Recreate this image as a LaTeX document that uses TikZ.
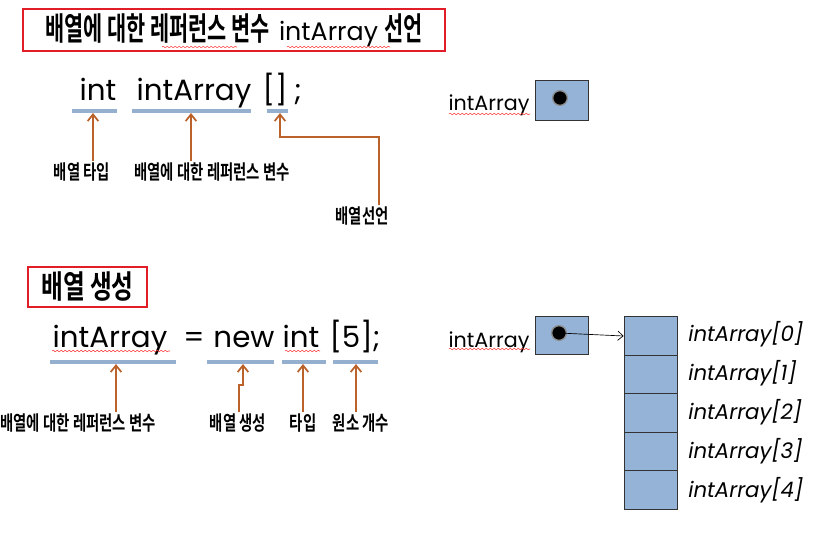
\documentclass[tikz,border=0pt]{standalone}
\usepackage{fontspec}
\usepackage{graphicx}
\setmainfont{Poppins}
\newfontfamily\codefont{Poppins}
\newfontfamily\krfont{Noto Sans CJK KR}[BoldFont={* Bold}]
\newcommand{\kr}[2][0.72]{\scalebox{#1}[1]{\krfont\bfseries #2}}
\usepackage{tikz}
\usetikzlibrary{arrows.meta}
\usetikzlibrary{decorations.pathmorphing}
\definecolor{refblue}{RGB}{149,179,215}
\definecolor{lineblue}{RGB}{148,176,206}
\definecolor{ptrbrown}{RGB}{186,98,42}
\definecolor{boxred}{RGB}{225,30,40}
\tikzset{>={Straight Barb[length=5pt,width=8pt]}}

\begin{document}
\begin{tikzpicture}[x=0.75pt,y=-0.75pt,
	code/.style={font=\codefont\fontsize{22}{26}\selectfont,inner sep=0pt,anchor=base},
	var/.style={font=\codefont\fontsize{15.5}{18}\selectfont,inner sep=0pt,anchor=base},
	idx/.style={font=\codefont\itshape\fontsize{16}{19}\selectfont,inner sep=0pt,anchor=base west},
	lbl/.style={font=\fontsize{15}{17}\selectfont,inner sep=1pt},
	title/.style={draw=boxred,line width=1.5pt,inner sep=0pt},
	uline/.style={draw=lineblue,line width=2.6pt},
	ptr/.style={draw=ptrbrown,line width=1.3pt,->},
	refbox/.style={draw=black!80,fill=refblue,minimum width=39.75pt,inner sep=0pt,line width=0.6pt},
	cell/.style={refbox,minimum height=28.9pt},
	dot/.style={circle,fill=black,draw=black!45,line width=1pt,minimum size=11pt,inner sep=0pt},
	squig/.style={draw=red!80,line width=0.4pt,decorate,decoration={snake,amplitude=0.6pt,segment length=3pt}}]
	\useasboundingbox (0,0) rectangle (840,537);

	% declaration
	\node[title,minimum width=316.5pt,minimum height=31.5pt] (title1) at (234,30)
		{\fontsize{24}{28}\selectfont\kr[0.65]{배열에 대한 레퍼런스 변수}\hspace{7pt}{\codefont\fontsize{19}{22}\selectfont intArray}\hspace{5pt}\kr[0.65]{선언}};
	\draw[squig] (162,47) -- (237,47);
	\draw[squig] (287,47) -- (390,47);

	\node[code] (tInt) at (98,100) {int};
	\node[code] (tVar) at (194,100) {intArray};
	\node[code] (tBr) at (275,100) {[]};
	\node[code] (tSemi) at (298,100) {;};

	\draw[uline] (72,111) -- (117,111);
	\draw[uline] (132,111) -- (251,111);
	\draw[uline] (267,111) -- (288,111);
	\coordinate (u1) at (93,113);
	\coordinate (u2) at (191,113);
	\coordinate (u3) at (280,113);
	\coordinate (b3) at (379,137);

	\node[lbl] (lbType) at (82,172) {\kr{배열 타입}};
	\node[lbl] (lbRef1) at (212,172) {\kr{배열에 대한 레퍼런스 변수}};
	\node[lbl] (lbDecl) at (362,216) {\kr{배열선언}};
	\draw[ptr] (u1 |- lbType.north) -- (u1);
	\draw[ptr] (u2 |- lbRef1.north) -- (u2);
	\draw[ptr] (b3 |- lbDecl.north) -- (b3) -| (u3);

	\node[var] (ref1) at (489,110) {intArray};
	\draw[squig] (449,114) -- (530,114);
	\node[refbox,minimum height=30pt] (box1) at (561.5,100) {};
	\node[dot] (dot1) at (560,98) {};

	% creation
	\node[title,minimum width=89.25pt,minimum height=30pt] (title2) at (87.5,287)
		{\fontsize{24}{28}\selectfont\kr[0.74]{배열 생성}};

	\node[code] (nVar) at (110,347) {intArray};
	\node[code] (nEq) at (194,347) {=};
	\node[code] (nNew) at (244,347) {new};
	\node[code] (nInt) at (301,347) {int};
	\node[code] (nSize) at (355,347) {[5];};
	\draw[squig] (52,351) -- (170,351);
	\draw[squig] (285,351) -- (320,351);

	\draw[uline] (50,362) -- (176,362);
	\draw[uline] (207,362) -- (274,362);
	\draw[uline] (282,362) -- (326,362);
	\draw[uline] (333,362) -- (378,362);
	\coordinate (u5) at (116,364);
	\coordinate (u6) at (243,364);
	\coordinate (j6) at (239,385);
	\coordinate (u7) at (303,364);
	\coordinate (u8) at (356,364);

	\node[lbl] (lbRef2) at (78,423) {\kr{배열에 대한 레퍼런스 변수}};
	\node[lbl] (lbNew) at (238,423) {\kr{배열 생성}};
	\node[lbl] (lbTy) at (303,423) {\kr{타입}};
	\node[lbl] (lbCnt) at (361,423) {\kr{원소 개수}};
	\draw[ptr] (u5 |- lbRef2.north) -- (u5);
	\draw[ptr] (j6 |- lbNew.north) -- (j6) -| (u6);
	\draw[ptr] (u7 |- lbTy.north) -- (u7);
	\draw[ptr] (u8 |- lbCnt.north) -- (u8);

	\node[var] (ref2) at (489,347) {intArray};
	\draw[squig] (449,349) -- (530,349);
	\node[refbox,minimum height=28.5pt] (box2) at (561.5,335) {};
	\node[dot] (dot2) at (559,333) {};

	\foreach \i in {0,...,4} {
		\node[cell] (cell\i) at (650.5,336+38.5*\i) {};
		\node[idx] (idx\i) at (688,341+39*\i) {intArray[\i]};
	}
	\draw[-{Straight Barb[length=4pt,width=7pt]},line width=0.5pt] (dot2.center) -- (cell0.west);
\end{tikzpicture}
\end{document}
